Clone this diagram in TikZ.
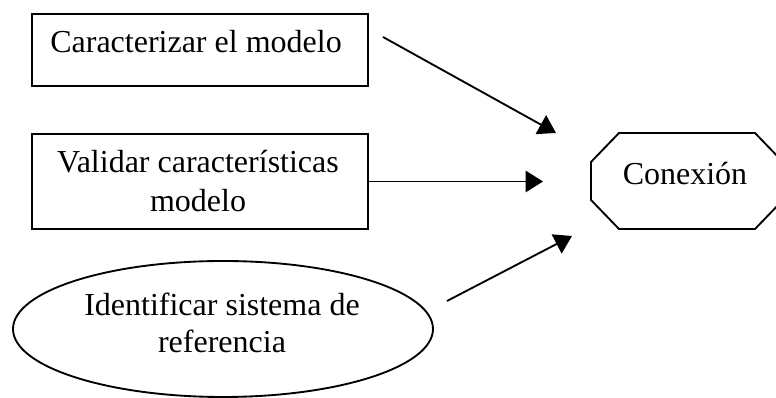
\documentclass[tikz,border=0pt]{standalone}
\usepackage{fontspec}
\setmainfont{Liberation Serif}
\usetikzlibrary{positioning, arrows.meta, shapes.geometric}
\tikzset{
  box/.style={draw, line width=1.4pt, inner sep=0pt},
  txt/.style={inner sep=0pt, align=center, font=\fontsize{24}{27.75}\selectfont},
  link/.style={line width=1.4pt, -{Triangle[length=13pt,width=16pt]}}
}
\begin{document}
\begin{tikzpicture}[x=0.75pt,y=0.75pt,yscale=-1,xscale=1]
\useasboundingbox (0,0) rectangle (776,398);

%Shape: Rectangle
\node[box, minimum width=252pt, minimum height=54pt] (carac) at (200,50) {};
% Text Node
\node[txt, anchor=base] (caractxt) at (196,53) {Caracterizar el modelo};

%Shape: Rectangle
\node[box, minimum width=252pt, minimum height=71.25pt] (valid) at (200,181.5) {};
% Text Node
\node[txt] (validtxt) at (198,181) {Validar características\\[2pt] modelo};

%Shape: Ellipse
\node[box, ellipse, minimum width=315pt, minimum height=102pt] (ident) at (223,329) {};
% Text Node
\node[txt] (identtxt) at (222,322.5) {Identificar sistema de\\ referencia};

%Shape: Octagon
\draw[line width=1.4pt] (591,162) -- (619,133) -- (755,133) -- (783,162) -- (783,200)
  -- (755,229) -- (619,229) -- (591,200) -- cycle;
% Text Node
\node[txt, anchor=base] (conex) at (685,185) {Conexión};

%Straight Lines
\coordinate (a1s) at (383,37);
\coordinate (a1e) at (556,133);
\coordinate (a2e) at (543,181.5);
\coordinate (a3s) at (447,301);
\coordinate (a3e) at (572,236);
\draw[link] (a1s) -- (a1e);
\draw[link] (valid.east) -- (a2e);
\draw[link] (a3s) -- (a3e);

\end{tikzpicture}
\end{document}
